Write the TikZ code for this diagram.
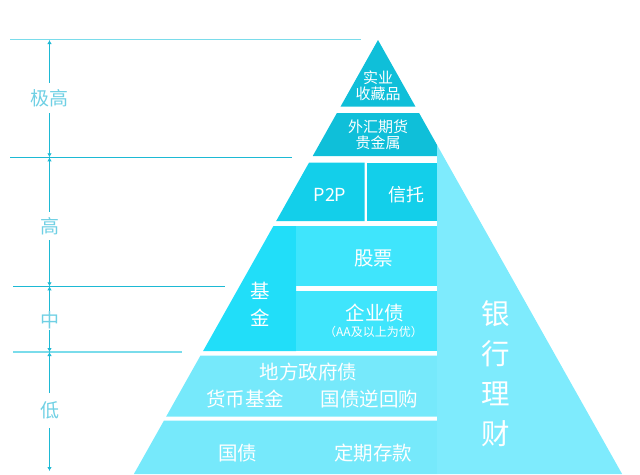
\documentclass[tikz,border=0pt]{standalone}
\usepackage{fontspec}
\setmainfont{Noto Sans CJK SC}
\usetikzlibrary{arrows.meta}
\definecolor{tA}{HTML}{0FBFD9}
\definecolor{tB}{HTML}{13CFEA}
\definecolor{tC}{HTML}{21DEF9}
\definecolor{tD}{HTML}{3FE5FC}
\definecolor{tE}{HTML}{76E9FB}
\definecolor{tF}{HTML}{7EEBFD}
\definecolor{scl}{HTML}{1DB9D4}
\definecolor{sclB}{HTML}{7ADCEB}
\definecolor{labc}{HTML}{6FD0E4}
\tikzset{
  wtxt/.style={text=white, inner sep=0pt, align=center},
  bigtxt/.style={wtxt, font=\fontsize{19.5}{23}\selectfont},
  toptxt/.style={wtxt, font=\fontsize{15}{16.5}\selectfont},
  scalelab/.style={text=labc, font=\fontsize{19}{22}\selectfont, inner xsep=0pt},
  vline/.style={draw=scl, line width=0.9pt, -{Latex[length=4pt,width=4.5pt]}},
  hline/.style={draw=scl, line width=0.9pt},
  hlineB/.style={draw=sclB, line width=1.5pt},
}
\begin{document}
\begin{tikzpicture}[x=1pt,y=-1pt]
\useasboundingbox (0,0) rectangle (640,474);
% pyramid tiers
\fill[tA] (378,40) -- (415.4,106.5) -- (340.6,106.5) -- cycle;
\fill[tA] (336.9,113) -- (419.1,113) -- (437,144.9) -- (437,156) -- (312.75,156) -- cycle;
\fill[tB] (309.1,162.5) -- (364.5,162.5) -- (364.5,221) -- (276.2,221) -- cycle;
\fill[tB] (367.3,162.5) -- (437,162.5) -- (437,221) -- (367.3,221) -- cycle;
\fill[tC] (273.4,226) -- (296,226) -- (296,351) -- (203.1,351) -- cycle;
\fill[tD] (296,226) -- (437,226) -- (437,285.7) -- (296,285.7) -- cycle;
\fill[tD] (296,290.7) -- (437,290.7) -- (437,351) -- (296,351) -- cycle;
\fill[tE] (200.5,355.5) -- (437,355.5) -- (437,416.5) -- (166.2,416.5) -- cycle;
\fill[tE] (164,420.5) -- (437,420.5) -- (437,474) -- (133.9,474) -- cycle;
\fill[tF] (437,144.9) -- (622.1,474) -- (437,474) -- cycle;
% texts
\node[toptxt] (n1) at (378,86) {实业\\收藏品};
\node[toptxt] (n2) at (378,135) {外汇期货\\贵金属};
\node[wtxt, font=\fontsize{18}{21}\selectfont] (n3) at (330,195) {P2P};
\node[wtxt, font=\fontsize{18}{21}\selectfont] (n4) at (406.7,195) {信托};
\node[wtxt, font=\fontsize{19.5}{27}\selectfont] (n5) at (260.5,304.5) {基\\金};
\node[bigtxt] (n6) at (373.5,258) {股票};
\node[bigtxt] (n7) at (375,313.3) {企业债};
\node[wtxt, font=\fontsize{12}{14}\selectfont] (n8) at (373.5,331.7) {（AA及以上为优）};
\node[bigtxt] (n9) at (308.3,371.7) {地方政府债};
\node[bigtxt] (n10) at (245.3,399.3) {货币基金};
\node[bigtxt] (n11) at (369.3,399.3) {国债逆回购};
\node[bigtxt] (n12) at (237.5,452.7) {国债};
\node[bigtxt] (n13) at (373.3,452.7) {定期存款};
\node[wtxt, font=\fontsize{28.5}{40}\selectfont] (n14) at (495.7,373.3) {银\\行\\理\\财};
% scale horizontal lines
\coordinate (h0a) at (10,39.5);  \coordinate (h0b) at (361,39.5);
\coordinate (h1a) at (10,157.3); \coordinate (h1b) at (292,157.3);
\coordinate (h2a) at (13,286.3); \coordinate (h2b) at (225,286.3);
\coordinate (h3a) at (13,352);   \coordinate (h3b) at (182,352);
\draw[hlineB] (h0a) -- (h0b);
\draw[hline] (h1a) -- (h1b);
\draw[hline] (h2a) -- (h2b);
\draw[hlineB, line width=1.2pt] (h3a) -- (h3b);
% scale vertical
\coordinate (v0) at (49.5,40);
\coordinate (v1) at (49.5,157.3);
\coordinate (v2) at (49.5,286.3);
\coordinate (v3) at (49.5,352);
\coordinate (v4) at (49.5,471);
\node[scalelab, inner ysep=6.5pt] (L1) at (49.5,98) {极高};
\node[scalelab, inner ysep=5.5pt] (L2) at (49.5,226) {高};
\node[scalelab, inner ysep=0.5pt] (L3) at (49.5,320.5) {中};
\node[scalelab, inner ysep=8.5pt] (L4) at (49.5,410.7) {低};
\draw[vline] (L1) -- (v0);
\draw[vline] (L1) -- (v1);
\draw[vline] (L2) -- (v1);
\draw[vline] (L2) -- (v2);
\draw[vline] (L3) -- (v2);
\draw[vline] (L3) -- (v3);
\draw[vline] (L4) -- (v3);
\draw[vline] (L4) -- (v4);
\end{tikzpicture}
\end{document}
